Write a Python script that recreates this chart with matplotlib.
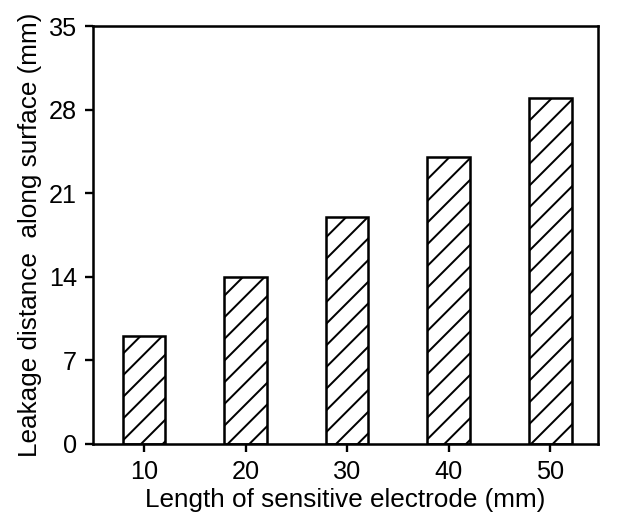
import matplotlib

matplotlib.use("Agg")
import matplotlib.pyplot as plt

# electrode length (mm) vs leakage distance along surface (mm)
lengths = [10, 20, 30, 40, 50]
leakage = [9, 14, 19, 24, 29]
yticks = [0, 7, 14, 21, 28, 35]

plt.rcParams["font.family"] = ["Liberation Sans", "DejaVu Sans"]
plt.rcParams["hatch.linewidth"] = 1.1

dpi = 130
fig = plt.figure(figsize=(621 / dpi, 521 / dpi), dpi=dpi)
ax = fig.add_axes([0.150, 0.148, 0.813, 0.802])

ax.bar(lengths, leakage, width=4.2, color="white", edgecolor="black",
       linewidth=1.4, hatch="//")

ax.set_xlim(5, 54.7)
ax.set_ylim(0, 35)
ax.set_xticks(lengths)
ax.set_yticks(yticks)
ax.tick_params(direction="out", length=4.5, width=1.3, labelsize=14, pad=4.5,
               top=False, right=False)
for s in ax.spines.values():
    s.set_linewidth(1.4)

ax.set_xlabel("Length of sensitive electrode (mm)", fontsize=14.5, labelpad=2)
ax.set_ylabel("Leakage distance  along surface (mm)", fontsize=14.5, labelpad=4)

fig.savefig("out.png", dpi=dpi)
